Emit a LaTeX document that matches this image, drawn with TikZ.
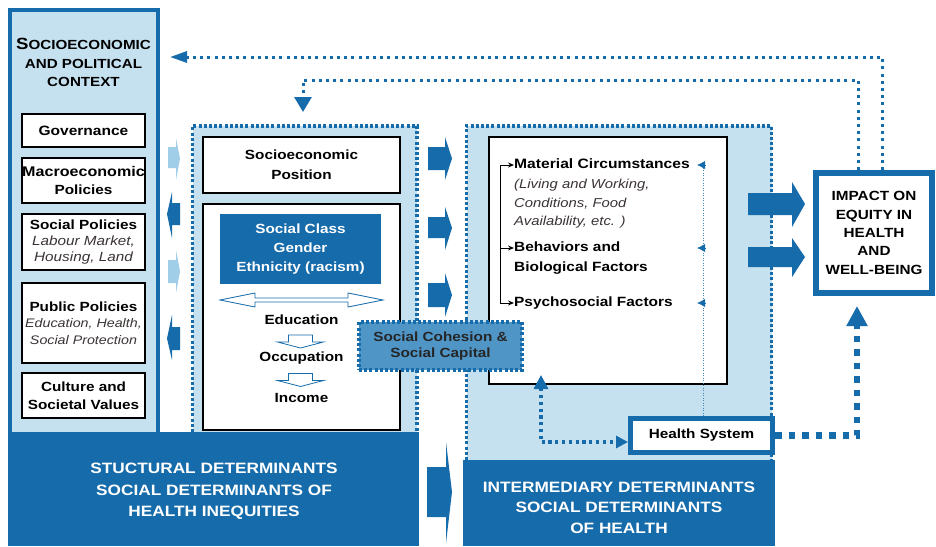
\documentclass[tikz,border=0pt]{standalone}
\usepackage{fontspec}
\setmainfont{Liberation Sans}[FakeStretch=1.15]
\usetikzlibrary{arrows.meta,calc}
\definecolor{dblue}{RGB}{22,107,170}
\definecolor{lblue}{RGB}{197,224,239}
\definecolor{mblue}{RGB}{79,150,199}
\definecolor{pblue}{RGB}{160,205,232}
\definecolor{itcol}{RGB}{60,52,52}
\newcommand\fsz[2]{\fontsize{#1}{#2}\selectfont}
% block arrow: colour, x body start, x head base, x tip, y body top, y head top, y head bottom, y body bottom, y tip
\newcommand\blockarr[9]{\fill[#1] (#2,#5) -- (#3,#5) -- (#3,#6) -- (#4,#9) -- (#3,#7) -- (#3,#8) -- (#2,#8) -- cycle;}
\begin{document}
\begin{tikzpicture}[x=1pt,y=-1pt,
  wbox/.style={draw=black, line width=1.2pt, fill=white, inner sep=0pt, align=center, text=black},
  txt/.style={inner sep=0pt, align=center, text=black},
  ltxt/.style={inner sep=0pt, anchor=west, text=black, text height=9.6pt, text depth=2.6pt},
  fbdots/.style={dblue, line width=3pt, dash pattern=on 3pt off 4.2pt},
  boxdash/.style={dblue, line width=3.5pt, dash pattern=on 3pt off 2.2pt},
  bigdots/.style={dblue, line width=6.5pt, dash pattern=on 6.5pt off 7pt},
  meddots/.style={dblue, line width=3.2pt, dash pattern=on 3.2pt off 3.6pt},
  hdown/.pic={\draw[dblue, line width=0.8pt, fill=white] (-12,-6.5) -- (12,-6.5) -- (12,0.5) -- (23,0.5) -- (0,6.5) -- (-23,0.5) -- (-12,0.5) -- cycle;}
]
\useasboundingbox[fill=white] (0,0) rectangle (936,546);

% ---------- left column: context ----------
\draw[line width=4pt, dblue, fill=lblue] (10,10) rectangle (157.5,440);

% ---------- structural (middle) box ----------
\fill[lblue] (192.5,126) rectangle (417,432);
\draw[boxdash] (192.5,432) -- (192.5,126) -- (417,126) -- (417,432);

% ---------- intermediary box ----------
\fill[lblue] (466.5,126) rectangle (771.5,460);
\draw[boxdash] (466.5,460) -- (466.5,126) -- (771.5,126) -- (771.5,460);

% ---------- bottom bands ----------
\fill[dblue] (8,432) rectangle (419,546);
\fill[dblue] (463,460) rectangle (775,546);
\node[txt, text=white, font=\bfseries\fsz{15}{21.5}] (struct) at (214,491.5)
  {STUCTURAL DETERMINANTS\\SOCIAL DETERMINANTS OF\\HEALTH INEQUITIES};
\node[txt, text=white, font=\bfseries\fsz{15}{20.5}] (inter) at (619,507.5)
  {INTERMEDIARY DETERMINANTS\\SOCIAL DETERMINANTS\\OF HEALTH};

% ---------- context texts and boxes ----------
\node[txt, font=\bfseries\fsz{13.2}{18.5}] (ctx) at (83.5,62.5)
  {{\fsz{16.2}{18.5}S}OCIOECONOMIC\\AND POLITICAL\\CONTEXT};
\node[wbox, minimum width=123pt, minimum height=33pt, font=\bfseries\fsz{13.5}{16}] (gov) at (83.5,130.5) {Governance};
\node[wbox, minimum width=123pt, minimum height=45pt, font=\bfseries\fsz{13.3}{18}] (macro) at (83.5,180.5)
  {{\fsz{14}{18}Macroeconomic}\\Policies};
\node[wbox, minimum width=123pt, minimum height=56pt, font=\bfseries\fsz{13.3}{16}] (socpol) at (83.5,242)
  {Social Policies\\{\mdseries\itshape\color{itcol}Labour Market,}\\{\mdseries\itshape\color{itcol}Housing, Land}};
\node[wbox, minimum width=123pt, minimum height=80pt, font=\bfseries\fsz{13.3}{16.5}] (pubpol) at (83.5,323)
  {Public Policies\\{\mdseries\itshape\fsz{12.4}{16.5}\color{itcol}Education, Health,}\\{\mdseries\itshape\fsz{12.4}{16.5}\color{itcol}Social Protection}};
\node[wbox, minimum width=123pt, minimum height=45pt, font=\bfseries\fsz{13.3}{18}] (cult) at (83.5,395.5)
  {Culture and\\Societal Values};

% ---------- arrows between context and structural box ----------
\blockarr{pblue}{168}{176}{180}{147}{138}{180}{168}{158.5}
\blockarr{dblue}{180}{172}{167}{203}{192}{238}{225}{214}
\blockarr{pblue}{168}{176}{180}{260}{250}{293}{283}{271.5}
\blockarr{dblue}{180}{172}{167}{327}{315}{360}{350}{338.5}

% ---------- structural box contents ----------
\node[wbox, minimum width=197pt, minimum height=56pt, font=\bfseries\fsz{13.3}{20}] (sep) at (301.5,165) {Socioeconomic\\Position};
\node[wbox, minimum width=197pt, minimum height=226pt] (strat) at (301.5,317) {};
\node[txt, fill=dblue, text=white, minimum width=161pt, minimum height=70pt, font=\bfseries\fsz{13.3}{19}] (cls) at (300.5,249)
  {Social Class\\Gender\\Ethnicity (racism)};
\draw[dblue, line width=0.8pt, fill=white] (220,300) -- (255,293) -- (255,298) -- (348,298) -- (348,293) -- (383,300)
  -- (348,307) -- (348,302) -- (255,302) -- (255,307) -- cycle;
\node[txt, font=\bfseries\fsz{13.3}{16}] (edu) at (301.5,320) {Education};
\path (300.5,341.5) pic {hdown};
\node[txt, font=\bfseries\fsz{13.3}{16}] (occ) at (301.5,358) {Occupation};
\path (300.5,380) pic {hdown};
\node[txt, font=\bfseries\fsz{13.3}{16}] (inc) at (301.5,398) {Income};

% ---------- arrows between structural and intermediary ----------
\blockarr{dblue}{428}{445}{452}{147}{137}{180}{170}{158.5}
\blockarr{dblue}{428}{445}{452}{217}{207}{250}{238}{228}
\blockarr{dblue}{428}{445}{452}{283}{273}{317}{307}{295}
\blockarr{dblue}{427}{446}{452}{467}{442}{543}{517}{492}

% ---------- intermediary contents ----------
\node[wbox, minimum width=238pt, minimum height=247pt] (wb) at (608,260.5) {};
\node[ltxt, font=\bfseries\fsz{13.6}{16}] (mat) at (514,165) {Material Circumstances};
\node[ltxt, font=\mdseries\itshape\fsz{12.9}{16}, text=itcol] (liv) at (514,185) {(Living and Working,};
\node[ltxt, font=\mdseries\itshape\fsz{12.9}{16}, text=itcol] (cond) at (514,204) {Conditions, Food};
\node[ltxt, font=\mdseries\itshape\fsz{12.9}{16}, text=itcol] (avail) at (514,222) {Availability, etc. )};
\node[ltxt, font=\bfseries\fsz{13.4}{16}] (beha) at (514,248) {Behaviors and};
\node[ltxt, font=\bfseries\fsz{13.4}{16}] (behb) at (514,268) {Biological Factors};
\node[ltxt, font=\bfseries\fsz{13.4}{16}] (psy) at (514,303) {Psychosocial Factors};

\coordinate (brt) at (500,165);
\coordinate (brb) at (500,303);
\draw[black, line width=1pt] (brt) -- (brb);
\draw[black, line width=1pt, -{Stealth[length=6pt,width=5pt]}] (brt) -- (mat.west);
\draw[black, line width=1pt, -{Stealth[length=6pt,width=5pt]}] (brt |- beha.west) -- (beha.west);
\draw[black, line width=1pt, -{Stealth[length=6pt,width=5pt]}] (brb) -- (psy.west);

% Health system
\node[draw=dblue, line width=5pt, fill=white, minimum width=142pt, minimum height=34pt, inner sep=0pt,
  font=\bfseries\fsz{13.3}{16}, text=black] (hs) at (701.5,435.5) {Health System};

% thin dotted line from health system to the three groups
\coordinate (vt) at (703,165);
\draw[dblue!80, line width=1pt, dash pattern=on 1pt off 1.5pt] (vt) -- (vt |- hs.north);
\coordinate (va) at (706,165);
\coordinate (vb) at (706,248);
\coordinate (vc) at (706,303);
\draw[dblue, line width=0.5pt, -{Latex[length=8pt,width=8pt]}] (va) -- ++(-9,0) coordinate (vaa);
\draw[dblue, line width=0.5pt, -{Latex[length=8pt,width=8pt]}] (vb) -- ++(-9,0) coordinate (vbb);
\draw[dblue, line width=0.5pt, -{Latex[length=8pt,width=8pt]}] (vc) -- ++(-9,0) coordinate (vcc);

% health system <-> intermediary box
\coordinate (wbin) at (541,375);
\draw[meddots, {Triangle[length=14pt,width=14pt]}-{Triangle[length=12pt,width=12pt]}] (wbin) |- ([yshift=-6.5pt]hs.west);

% social cohesion
\node[draw=dblue, line width=3.2pt, dash pattern=on 3pt off 2.2pt, fill=mblue, minimum width=163pt, minimum height=48pt,
  inner sep=0pt, align=center, text=black!85, font=\bfseries\fsz{13.3}{15.5}] (coh) at (440.5,346)
  {Social Cohesion \&\\Social Capital};

% ---------- impact ----------
\node[draw=dblue, line width=5.5pt, fill=white, minimum width=116pt, minimum height=120pt, inner sep=0pt,
  align=center, text=black, font=\bfseries\fsz{13.3}{18.3}] (imp) at (874,233)
  {IMPACT ON\\EQUITY IN\\HEALTH\\AND\\WELL-BEING};
\blockarr{dblue}{748}{792}{805}{193}{182}{227}{215}{204}
\blockarr{dblue}{748}{792}{805}{247}{238}{277}{267}{257}

% health system -> impact
\coordinate (impin) at (857,306);
\draw[bigdots, -{Triangle[length=20pt,width=20pt]}] (hs.east) -| (impin);

% feedback loops
\coordinate (c882) at (882,0);
\coordinate (c858) at (858,0);
\coordinate (fbtip) at (170,57);
\coordinate (fbcorner) at (303,80);
\coordinate (fbdown) at (303,112);
\draw[fbdots, -{Triangle[length=17pt,width=11pt]}] (imp.north -| c882) |- (fbtip);
\draw[fbdots, -{Triangle[length=15pt,width=17pt]}] (imp.north -| c858) |- (fbcorner) -- (fbdown);
\end{tikzpicture}
\end{document}
